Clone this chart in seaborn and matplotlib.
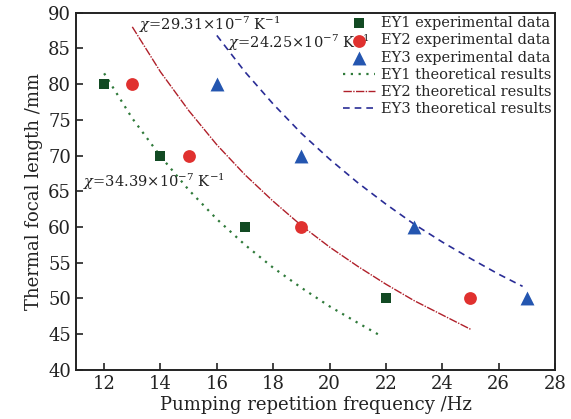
import matplotlib

matplotlib.use("Agg")
import matplotlib.pyplot as plt
import pandas as pd
import seaborn as sns

# Experimental data (pumping repetition frequency / Hz, thermal focal length / mm)
ey1_freq = [12, 14, 17, 22]
ey1_focal = [80, 70, 60, 50]
ey2_freq = [13, 15, 19, 25]
ey2_focal = [80, 70, 60, 50]
ey3_freq = [16, 19, 23, 27]
ey3_focal = [80, 70, 60, 50]

# Theoretical curves
ey1_theory_freq = [12, 13, 14, 15, 16, 17, 18, 19, 20, 21, 21.85]
ey1_theory_focal = [81.5, 75.2, 69.9, 65.2, 61.1, 57.5, 54.3, 51.5, 48.9, 46.6, 44.7]
ey2_theory_freq = [13, 14, 15, 16, 17, 18, 19, 20, 21, 22, 23, 24, 25]
ey2_theory_focal = [88.0, 81.7, 76.3, 71.5, 67.3, 63.6, 60.2, 57.2, 54.5, 52.0, 49.7, 47.7, 45.7]
ey3_theory_freq = [16, 17, 18, 19, 20, 21, 22, 23, 24, 25, 26, 26.85]
ey3_theory_focal = [86.8, 81.7, 77.2, 73.1, 69.5, 66.2, 63.2, 60.4, 57.9, 55.6, 53.4, 51.7]

x_ticks = [12, 14, 16, 18, 20, 22, 24, 26, 28]
y_ticks = [40, 45, 50, 55, 60, 65, 70, 75, 80, 85, 90]

sns.set_theme(style="ticks")
plt.rcParams["font.family"] = ["DejaVu Serif"]
plt.rcParams["mathtext.fontset"] = "dejavuserif"

fig = plt.figure(figsize=(5.71, 4.19), dpi=100)
ax = fig.add_axes([0.133, 0.117, 0.839, 0.853])

exp_sets = [
    ("EY1 experimental data", ey1_freq, ey1_focal, "s", "#124a23", 60),
    ("EY2 experimental data", ey2_freq, ey2_focal, "o", "#e0312f", 85),
    ("EY3 experimental data", ey3_freq, ey3_focal, "^", "#2456b0", 100),
]
for label, xs, ys, marker, color, size in exp_sets:
    df = pd.DataFrame({"freq": xs, "focal": ys})
    sns.scatterplot(
        data=df, x="freq", y="focal", marker=marker, color=color,
        s=size, linewidth=0, label=label, ax=ax, zorder=3,
    )

theory_sets = [
    ("EY1 theoretical results", ey1_theory_freq, ey1_theory_focal, (0, (1, 2.5)), "#2f7a3a", 1.6),
    ("EY2 theoretical results", ey2_theory_freq, ey2_theory_focal, (0, (6, 1, 1, 1)), "#b0202a", 1.0),
    ("EY3 theoretical results", ey3_theory_freq, ey3_theory_focal, (0, (4, 3)), "#2a2d96", 1.2),
]
for label, xs, ys, dash, color, lw in theory_sets:
    df = pd.DataFrame({"freq": xs, "focal": ys})
    sns.lineplot(
        data=df, x="freq", y="focal", sort=False, color=color,
        linestyle=dash, linewidth=lw, label=label, ax=ax,
    )

# Thermal-optic coefficient annotations
ax.text(13.25, 88.3, r"$\chi$=29.31×10$^{-7}$ K$^{-1}$", fontsize=10.5, va="center", color="#222222")
ax.text(16.4, 85.8, r"$\chi$=24.25×10$^{-7}$ K$^{-1}$", fontsize=10.5, va="center", color="#222222")
ax.text(11.25, 66.3, r"$\chi$=34.39×10$^{-7}$ K$^{-1}$", fontsize=10.5, va="center", color="#222222")

ax.set_xlim(11, 28)
ax.set_ylim(40, 90)
ax.set_xticks(x_ticks)
ax.set_yticks(y_ticks)
ax.tick_params(direction="in", length=5, width=1.2, labelsize=13, colors="#222222",
               top=False, right=False)
for spine in ax.spines.values():
    spine.set_linewidth(1.4)
    spine.set_color("#222222")

ax.set_xlabel("Pumping repetition frequency /Hz", fontsize=13, color="#222222", labelpad=2)
ax.set_ylabel("Thermal focal length /mm", fontsize=13, color="#222222", labelpad=4)

ax.legend(loc="upper right", frameon=False, fontsize=10.5, handlelength=2.2,
          handletextpad=0.4, labelspacing=0.22, borderaxespad=0.1, borderpad=0.15)

plt.savefig("out.png", dpi=100)
plt.close()
